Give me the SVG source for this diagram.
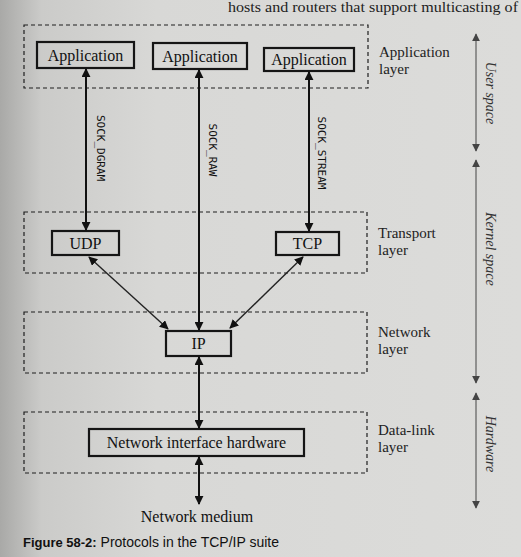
<svg xmlns="http://www.w3.org/2000/svg" width="521" height="557" viewBox="0 0 521 557">
<defs>
  <linearGradient id="page" x1="0" y1="0" x2="1" y2="0">
    <stop offset="0" stop-color="#a9a9a7"/>
    <stop offset="0.08" stop-color="#cbcbc9"/>
    <stop offset="0.3" stop-color="#d8d8d6"/>
    <stop offset="1" stop-color="#dcdcda"/>
  </linearGradient>
  <marker id="ah" viewBox="0 0 10 10" refX="9" refY="5" markerWidth="9" markerHeight="9" markerUnits="userSpaceOnUse" orient="auto-start-reverse">
    <path d="M0,0 L10,5 L0,10 z" fill="#111"/>
  </marker>
  <marker id="ahs" viewBox="0 0 10 10" refX="9" refY="5" markerWidth="8" markerHeight="8" markerUnits="userSpaceOnUse" orient="auto-start-reverse">
    <path d="M0,0 L10,5 L0,10 z" fill="#444"/>
  </marker>
  <style>
    .layer { fill: none; stroke: #1e1e1e; stroke-width: 1.2; stroke-dasharray: 4 3; }
    .box { fill: none; stroke: #151515; stroke-width: 2.2; }
    .bt { font-family: "Liberation Serif", "DejaVu Serif", serif; font-size: 16px; fill: #111; text-anchor: middle; }
    .lt { font-family: "Liberation Serif", "DejaVu Serif", serif; font-size: 15px; fill: #222; }
    .sock { font-family: "DejaVu Sans Mono", "Liberation Mono", monospace; font-size: 11px; fill: #111; text-anchor: middle; }
    .side { font-family: "Liberation Serif", "DejaVu Serif", serif; font-style: italic; font-size: 14px; fill: #333; text-anchor: middle; }
    .arr { stroke: #111; stroke-width: 2; fill: none; marker-start: url(#ah); marker-end: url(#ah); }
    .arrt { stroke: #222; stroke-width: 1.4; fill: none; marker-start: url(#ah); marker-end: url(#ah); }
    .sarr { stroke: #444; stroke-width: 1; fill: none; marker-start: url(#ahs); marker-end: url(#ahs); }
  </style>
</defs>
<rect x="0" y="0" width="521" height="557" fill="url(#page)"/>
<text x="518" y="12" class="lt" text-anchor="end" font-size="15" textLength="290" lengthAdjust="spacingAndGlyphs">hosts and routers that support multicasting of</text>

<g id="layers">
  <g id="application-layer">
    <rect class="layer" x="24" y="25" width="344" height="63"/>
    <text class="lt" x="379" y="57">Application</text>
    <text class="lt" x="379" y="74">layer</text>
  </g>
  <g id="transport-layer">
    <rect class="layer" x="24" y="212" width="343" height="61"/>
    <text class="lt" x="378" y="238">Transport</text>
    <text class="lt" x="378" y="255">layer</text>
  </g>
  <g id="network-layer">
    <rect class="layer" x="24" y="312" width="343" height="61"/>
    <text class="lt" x="378" y="337">Network</text>
    <text class="lt" x="378" y="354">layer</text>
  </g>
  <g id="datalink-layer">
    <rect class="layer" x="24" y="412" width="343" height="61"/>
    <text class="lt" x="378" y="435">Data-link</text>
    <text class="lt" x="378" y="452">layer</text>
  </g>
</g>

<g id="app1">
  <rect class="box" x="37" y="42" width="97" height="26"/>
  <text class="bt" x="85.5" y="60.5">Application</text>
</g>
<g id="app2">
  <rect class="box" x="153" y="43" width="94" height="26"/>
  <text class="bt" x="200" y="61.5">Application</text>
</g>
<g id="app3">
  <rect class="box" x="264" y="48" width="90" height="23"/>
  <text class="bt" x="309" y="65">Application</text>
</g>
<g id="udp">
  <rect class="box" x="52" y="231" width="67" height="24"/>
  <text class="bt" x="85.5" y="248.5">UDP</text>
</g>
<g id="tcp">
  <rect class="box" x="276" y="232" width="63" height="23"/>
  <text class="bt" x="307.5" y="249">TCP</text>
</g>
<g id="ip">
  <rect class="box" x="166" y="331" width="65" height="25"/>
  <text class="bt" x="198.5" y="349">IP</text>
</g>
<g id="nih">
  <rect class="box" x="89" y="429" width="215" height="27"/>
  <text class="bt" x="196.5" y="448">Network interface hardware</text>
</g>
<g id="medium">
  <text class="bt" x="197" y="522">Network medium</text>
</g>

<g id="connectors">
  <line class="arr" x1="86" y1="69" x2="86" y2="230"/>
  <line class="arr" x1="199" y1="70" x2="199" y2="330"/>
  <line class="arr" x1="309" y1="72" x2="309" y2="231"/>
  <line class="arrt" x1="89" y1="257" x2="168" y2="329"/>
  <line class="arrt" x1="303" y1="257" x2="230" y2="328"/>
  <line class="arr" x1="199" y1="357" x2="199" y2="428"/>
  <line class="arr" x1="199" y1="457" x2="199" y2="504"/>
  <text class="sock" transform="translate(97,148) rotate(90)">SOCK_DGRAM</text>
  <text class="sock" transform="translate(209,150) rotate(90)">SOCK_RAW</text>
  <text class="sock" transform="translate(318,153) rotate(90)">SOCK_STREAM</text>
</g>

<g id="spaces">
  <line class="sarr" x1="476" y1="34" x2="476" y2="151"/>
  <line class="sarr" x1="476" y1="160" x2="476" y2="383"/>
  <line class="sarr" x1="476" y1="393" x2="476" y2="508"/>
  <text class="side" transform="translate(486,93) rotate(90)">User space</text>
  <text class="side" transform="translate(486,249) rotate(90)">Kernel space</text>
  <text class="side" transform="translate(486,444) rotate(90)">Hardware</text>
</g>

<g id="caption">
  <text x="23" y="547" font-family="Liberation Sans, Arial, sans-serif" font-size="14" fill="#111"><tspan font-weight="bold" font-size="13">Figure 58-2:</tspan> Protocols in the TCP/IP suite</text>
</g>
</svg>
